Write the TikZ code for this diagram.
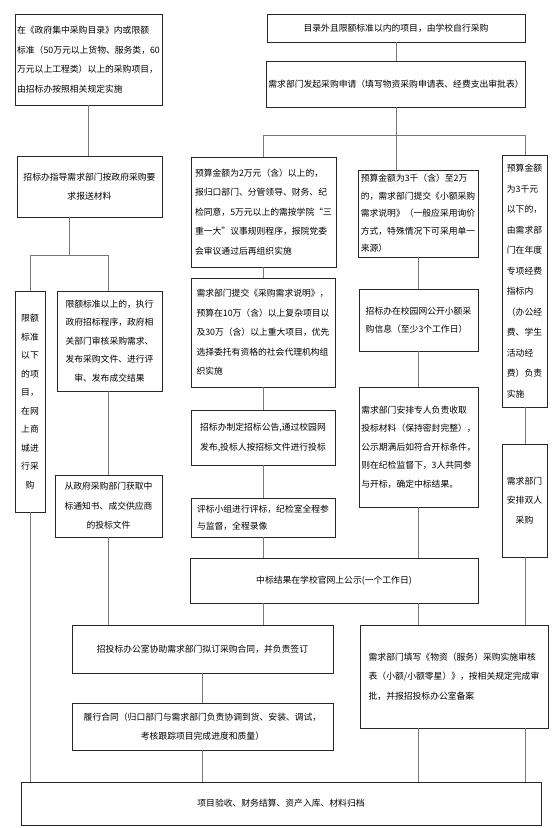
\documentclass[tikz,border=0pt]{standalone}
\usepackage{fontspec}
\setmainfont{Noto Sans CJK SC}
\usepackage{tikz}
\usetikzlibrary{positioning, calc}
\definecolor{cFrame}{RGB}{40,40,40}
\definecolor{cLink}{RGB}{120,120,120}
\newcommand{\boxfont}{\fontsize{8.8pt}{19.5pt}\selectfont}
\newcommand{\tightfont}{\fontsize{8.8pt}{17.5pt}\selectfont}
\newcommand{\narrowfont}{\fontsize{8.8pt}{18.5pt}\selectfont}
\newcommand{\colfont}{\fontsize{8.8pt}{20.5pt}\selectfont}
\tikzset{
	stage/.style={rectangle, draw=cFrame, line width=0.6pt, fill=white, inner sep=2pt, align=left, font=\boxfont},
	stagec/.style={stage, align=center},
	link/.style={draw=cLink, line width=0.6pt},
}

\begin{document}
\begin{tikzpicture}[x=1pt, y=-1pt]
	\useasboundingbox (0,0) rectangle (554,828);
	% left column: government purchasing
	\node[stage, minimum width=147pt, minimum height=91pt] (A) at (88.5,59.5)
		{在《政府集中采购目录》内或限额\\标准（50万元以上货物、服务类，60\\万元以上工程类）以上的采购项目，\\由招标办按照相关规定实施};
	\node[stagec, minimum width=145pt, minimum height=61pt] (B) at (89.5,186.5)
		{招标办指导需求部门按政府采购要\\求报送材料};
	\node[stagec, font=\narrowfont, minimum width=30pt, minimum height=221pt] (D1) at (30,401.5)
		{限额\\标准\\以下\\的项\\目，\\在网\\上商\\城进\\行采\\购};
	\node[stagec, font=\narrowfont, minimum width=105pt, minimum height=100pt] (D2) at (109.5,341)
		{限额标准以上的，执行\\政府招标程序，政府相\\关部门审核采购需求、\\发布采购文件、进行评\\审、发布成交结果};
	\node[stagec, minimum width=107pt, minimum height=62pt] (E) at (108.5,506)
		{从政府采购部门获取中\\标通知书、成交供应商\\的投标文件};
	% right part: school purchasing
	\node[stagec, minimum width=258pt, minimum height=28pt] (T1) at (396,28)
		{目录外且限额标准以内的项目，由学校自行采购};
	\node[stagec, minimum width=258pt, minimum height=46pt] (T2) at (396,84)
		{需求部门发起采购申请（填写物资采购申请表、经费支出审批表）};
	\node[stage, minimum width=145pt, minimum height=110pt] (C1) at (263.5,212)
		{预算金额为2万元（含）以上的，\\报归口部门、分管领导、财务、纪\\检同意，5万元以上的需按学院“三\\重一大”议事规则程序，报院党委\\会审议通过后再组织实施};
	\node[stage, font=\tightfont, minimum width=120pt, minimum height=87pt] (C2) at (418,213.5)
		{预算金额为3千（含）至2万\\的，需求部门提交《小额采购\\需求说明》（一般应采用询价\\方式，特殊情况下可采用单一\\来源）};
	\node[stage, font=\colfont, minimum width=45pt, minimum height=252pt] (C3) at (524.5,281)
		{预算金额\\为3千元\\以下的，\\由需求部\\门在年度\\专项经费\\指标内\\（办公经\\费、学生\\活动经\\费）负责\\实施};
	\node[stage, minimum width=144pt, minimum height=109pt] (C4) at (263,332.5)
		{需求部门提交《采购需求说明》，\\预算在10万（含）以上复杂项目以\\及30万（含）以上重大项目，优先\\选择委托有资格的社会代理机构组\\织实施};
	\node[stage, minimum width=144pt, minimum height=55pt] (C5) at (263,437.5)
		{招标办制定招标公告,通过校园网\\发布,投标人按招标文件进行投标};
	\node[stage, font=\tightfont, minimum width=144pt, minimum height=39pt] (C6) at (263,517.5)
		{评标小组进行评标，纪检室全程参\\与监督，全程录像};
	\node[stage, font=\tightfont, minimum width=119pt, minimum height=62pt] (C7) at (418.5,320)
		{招标办在校园网公开小额采\\购信息（至少3个工作日）};
	\node[stage, font=\narrowfont, minimum width=119pt, minimum height=120pt] (C8) at (418.5,447)
		{需求部门安排专人负责收取\\投标材料（保持密封完整），\\公示期满后如符合开标条件，\\则在纪检监督下，3人共同参\\与开标，确定中标结果。};
	\node[stagec, minimum width=45pt, minimum height=113pt] (C9) at (524.5,500.5)
		{需求部门\\安排双人\\采购};
	% joint steps
	\node[stagec, minimum width=288pt, minimum height=45pt] (M) at (334,580.5)
		{中标结果在学校官网上公示(一个工作日)};
	\node[stagec, minimum width=261pt, minimum height=48pt] (K) at (202.5,649)
		{招投标办公室协助需求部门拟订采购合同，并负责签订};
	\node[stagec, minimum width=261pt, minimum height=47pt] (L) at (202.5,726.5)
		{履行合同（归口部门与需求部门负责协调到货、安装、调试，\\考核跟踪项目完成进度和质量）};
	\node[stage, minimum width=188pt, minimum height=103pt] (R1) at (454,676.5)
		{需求部门填写《物资（服务）采购实施审核\\表（小额/小额零星）》，按相关规定完成审\\批，并报招投标办公室备案};
	\node[stagec, minimum width=520pt, minimum height=43pt] (Z) at (281,803.5)
		{项目验收、财务结算、资产入库、材料归档};

	% bus points
	\coordinate (tL) at (263,135);
	\coordinate (tR) at (525,135);
	\coordinate (bM) at (69,255);
	\coordinate (bL) at (30,255);
	\coordinate (bR) at (108,255);

	% connectors, left
	\draw[link] (A.south) -- (A.south |- B.north);
	\draw[link] (bM |- B.south) -- (bM);
	\draw[link] (bL) -- (bR);
	\draw[link] (bL) -- (bL |- D1.north);
	\draw[link] (bR) -- (bR |- D2.north);
	\draw[link] (bR |- D2.south) -- (bR |- E.north);
	\draw[link] (bR |- E.south) -- (bR |- K.north);
	\draw[link] (D1.south) -- (D1.south |- Z.north);
	% connectors, right
	\draw[link] (T1.south) -- (T2.north);
	\draw[link] (T2.south) -- (T2.south |- C2.north);
	\draw[link] (tL) -- (tR);
	\draw[link] (tL) -- (tL |- C1.north);
	\draw[link] (tR) -- (tR |- C3.north);
	\draw[link] (C1.south) -- (C1.south |- C4.north);
	\draw[link] (C4.south) -- (C4.south |- C5.north);
	\draw[link] (C5.south) -- (C5.south |- C6.north);
	\draw[link] (C6.south) -- (C6.south |- M.north);
	\draw[link] (C2.south) -- (C2.south |- C7.north);
	\draw[link] (C7.south) -- (C7.south |- C8.north);
	\draw[link] (C8.south) -- (C8.south |- M.north);
	\draw[link] (tR |- C3.south) -- (tR |- C9.north);
	\draw[link] (tR |- C9.south) -- (tR |- R1.north);
	% connectors, bottom
	\draw[link] (C6.south |- M.south) -- (C6.south |- K.north);
	\draw[link] (C8.south |- M.south) -- (C8.south |- R1.north);
	\draw[link] (K.south) -- (K.south |- L.north);
	\draw[link] (L.south) -- (L.south |- Z.north);
	\draw[link] (C8.south |- R1.south) -- (C8.south |- Z.north);
	\draw[link] (tR |- R1.south) -- (tR |- Z.north);
\end{tikzpicture}
\end{document}
